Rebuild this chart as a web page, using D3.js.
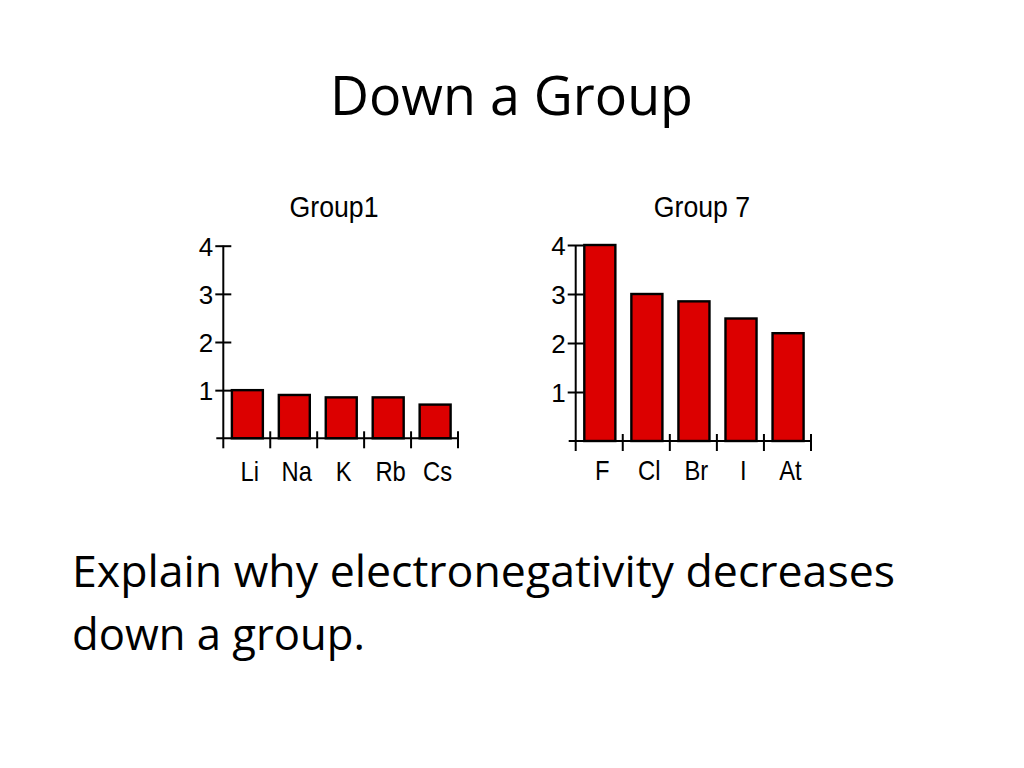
<!DOCTYPE html>
<html>
<head>
<meta charset="utf-8">
<script src="https://cdn.jsdelivr.net/npm/d3@7/dist/d3.min.js"></script>
<style>
  html, body { margin: 0; padding: 0; background: #fff; }
  svg { display: block; }
</style>
</head>
<body>
<script>
// ---- data ----
const pageTitle = "Down a Group";
const bodyLines = ["Explain why electronegativity decreases", "down a group."];

const group1Title = "Group1";
const group1Elements = ["Li", "Na", "K", "Rb", "Cs"];
const group1Values = [1.0, 0.9, 0.85, 0.85, 0.7];

const group7Title = "Group 7";
const group7Elements = ["F", "Cl", "Br", "I", "At"];
const group7Values = [4.0, 3.0, 2.85, 2.5, 2.2];

const yTicks = [1, 2, 3, 4];

// ---- drawing ----
const W = 1024, H = 768;
const svg = d3.select("body").append("svg").attr("width", W).attr("height", H);
svg.append("rect").attr("width", W).attr("height", H).attr("fill", "#fff");

const slideFont = "'Open Sans', 'Noto Sans', sans-serif";
const chartFont = "'Liberation Sans', Arial, sans-serif";

svg.append("text")
  .attr("x", 511.5).attr("y", 115)
  .attr("text-anchor", "middle")
  .attr("font-family", slideFont)
  .attr("font-size", 55)
  .attr("textLength", 363).attr("lengthAdjust", "spacingAndGlyphs")
  .attr("fill", "#000")
  .text(pageTitle);

const bodyWidths = [823, 293];
bodyLines.forEach((line, i) => {
  svg.append("text")
    .attr("x", 72).attr("y", 587 + i * 63)
    .attr("font-family", slideFont)
    .attr("font-size", 44)
    .attr("textLength", bodyWidths[i]).attr("lengthAdjust", "spacingAndGlyphs")
    .attr("fill", "#000")
    .text(line);
});

function drawChart(opts) {
  const { title, cats, vals, x0, x1, yTop, yBase, titleX, labelDy } = opts;
  const g = svg.append("g");
  const x = d3.scaleBand().domain(cats).range([x0, x1]).paddingInner(0).paddingOuter(0);
  const y = d3.scaleLinear().domain([0, 4]).range([yBase, yTop]);
  const bw = x.bandwidth();
  const barW = bw * 0.66;

  // title
  g.append("text")
    .attr("transform", `translate(${titleX},${217}) scale(0.92,1)`)
    .attr("text-anchor", "middle")
    .attr("font-family", chartFont)
    .attr("font-size", 29)
    .attr("fill", "#000")
    .text(title);

  // bars
  g.selectAll("rect.bar").data(cats).enter().append("rect")
    .attr("class", "bar")
    .attr("x", d => x(d) + (bw - barW) / 2 + 0.6)
    .attr("y", (d, i) => y(vals[i]))
    .attr("width", barW)
    .attr("height", (d, i) => yBase - y(vals[i]))
    .attr("fill", "#dc0000")
    .attr("stroke", "#000")
    .attr("stroke-width", 2.4);

  // y axis
  const yAxis = d3.axisLeft(y).tickValues(yTicks).tickSize(0).tickPadding(10).tickFormat(d3.format("d"));
  const ya = g.append("g").attr("transform", `translate(${x0},0)`).call(yAxis);
  ya.select(".domain").remove();
  ya.selectAll(".tick line").attr("x1", -8).attr("x2", 8).attr("stroke", "#000").attr("stroke-width", 2);
  ya.selectAll(".tick text")
    .attr("font-family", chartFont).attr("font-size", 26).attr("fill", "#000")
    .attr("x", -10).attr("dy", "0.36em");
  g.append("line")
    .attr("x1", x0).attr("x2", x0)
    .attr("y1", y(4)).attr("y2", yBase + 10)
    .attr("stroke", "#000").attr("stroke-width", 2);

  // x axis baseline
  g.append("line")
    .attr("x1", x0 - 7).attr("x2", x1)
    .attr("y1", yBase).attr("y2", yBase)
    .attr("stroke", "#000").attr("stroke-width", 2);
  // x ticks at band boundaries
  const bounds = cats.map(c => x(c)).concat([x(cats[cats.length - 1]) + bw]).slice(1);
  g.selectAll("line.xt").data(bounds).enter().append("line")
    .attr("class", "xt")
    .attr("x1", d => d).attr("x2", d => d)
    .attr("y1", yBase - 7).attr("y2", yBase + 10)
    .attr("stroke", "#000").attr("stroke-width", 2);
  // x labels
  g.selectAll("text.xl").data(cats).enter().append("text")
    .attr("class", "xl")
    .attr("transform", d => `translate(${x(d) + bw / 2 + 3},${yBase + labelDy}) scale(0.88,1)`)
    .attr("text-anchor", "middle")
    .attr("font-family", chartFont)
    .attr("font-size", 27)
    .attr("fill", "#000")
    .text(d => d);
}

drawChart({ title: group1Title, cats: group1Elements, vals: group1Values,
  x0: 223.3, x1: 458, yTop: 245.7, yBase: 438.3, titleX: 334, labelDy: 43 });
drawChart({ title: group7Title, cats: group7Elements, vals: group7Values,
  x0: 575.7, x1: 811, yTop: 245, yBase: 441, titleX: 702, labelDy: 39 });
</script>
</body>
</html>
